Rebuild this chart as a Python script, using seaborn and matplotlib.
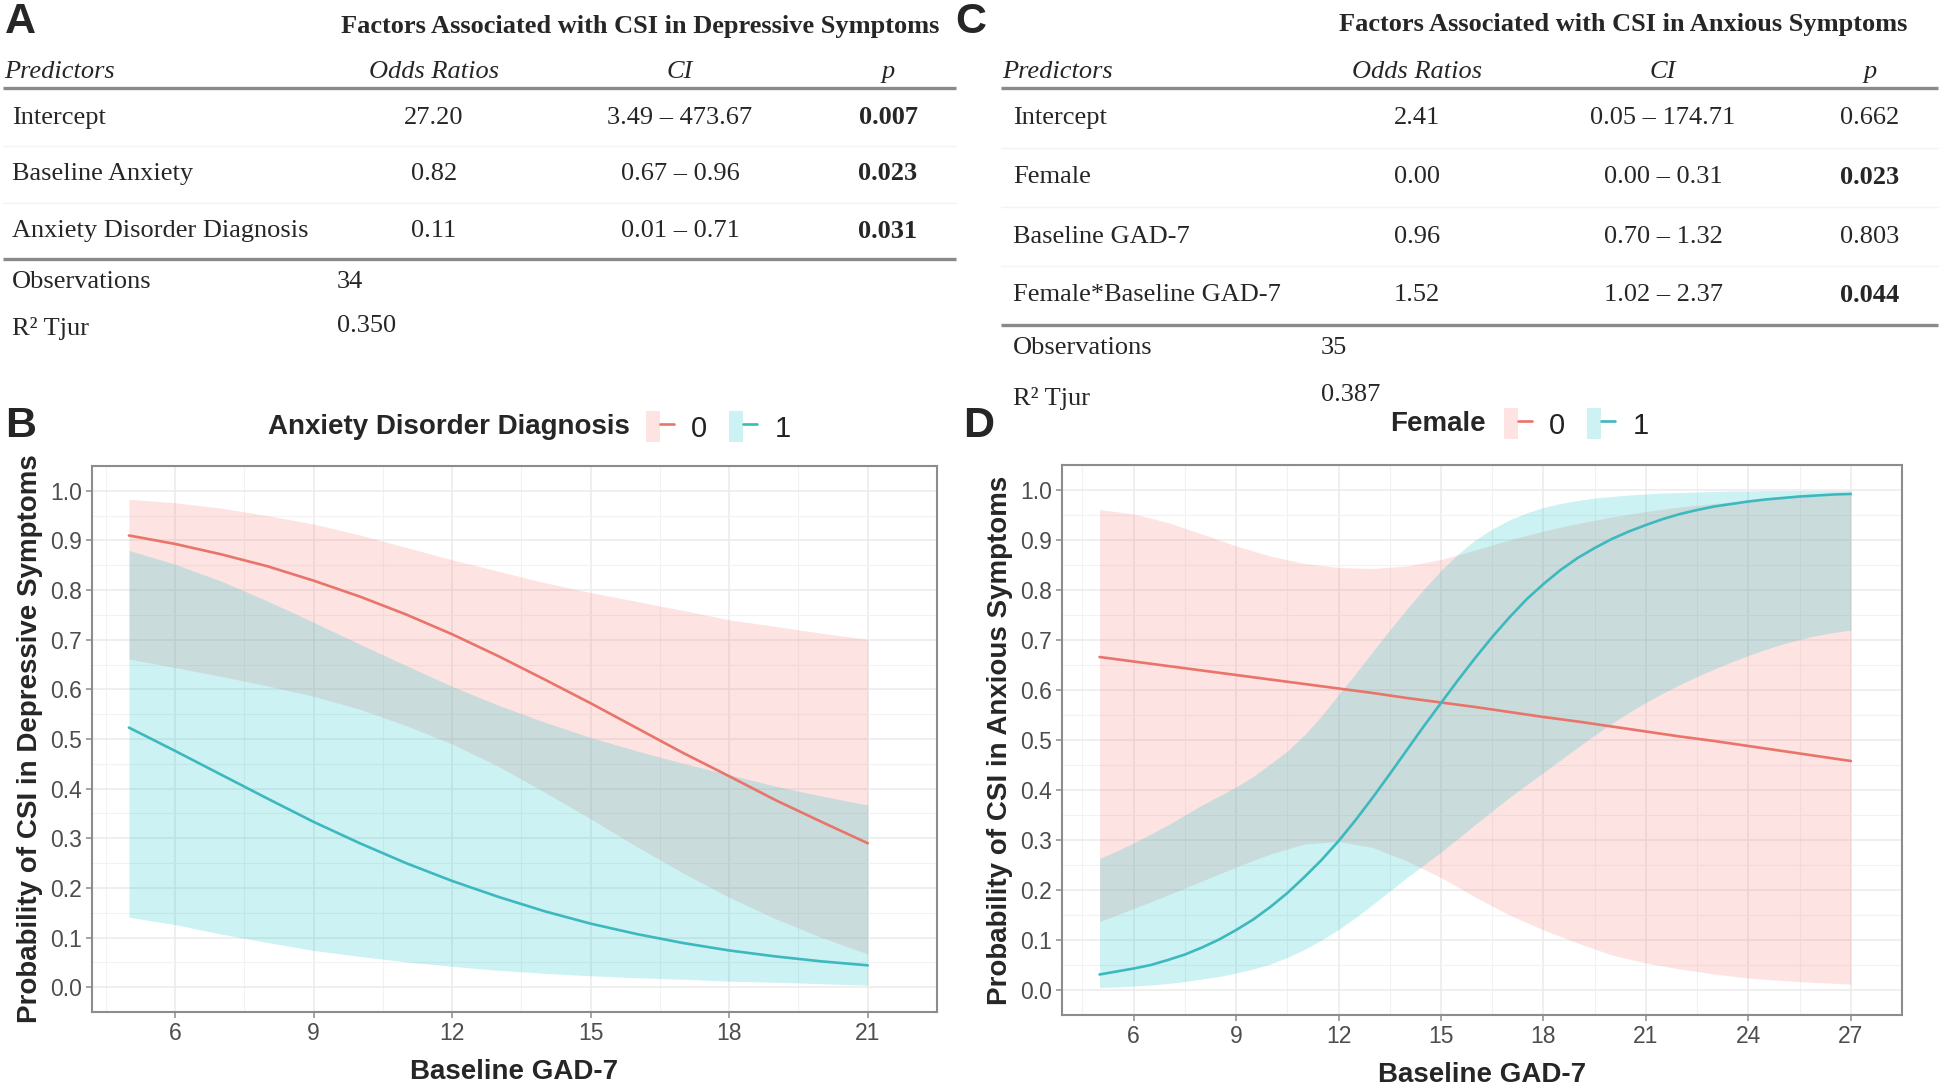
import numpy as np
import pandas as pd
import matplotlib
matplotlib.use("Agg")
import matplotlib.pyplot as plt
import seaborn as sns
from matplotlib.patches import Patch
from matplotlib.lines import Line2D
from matplotlib.legend_handler import HandlerTuple

# ---------------- Data ----------------
# Panel B: Probability of CSI in Depressive Symptoms vs Baseline GAD-7
gad_b = [5, 6, 7, 8, 9, 10, 11, 12, 13, 14, 15, 16, 17, 18, 19, 20, 21]
dep_p0 = [0.910, 0.893, 0.872, 0.848, 0.819, 0.787, 0.751, 0.711, 0.667, 0.620, 0.572, 0.522, 0.472, 0.425, 0.377, 0.333, 0.290]
dep_lo0 = [0.661, 0.644, 0.626, 0.607, 0.586, 0.560, 0.527, 0.490, 0.445, 0.393, 0.339, 0.283, 0.230, 0.181, 0.138, 0.100, 0.067]
dep_hi0 = [0.983, 0.976, 0.965, 0.950, 0.933, 0.911, 0.886, 0.861, 0.838, 0.815, 0.795, 0.777, 0.759, 0.740, 0.727, 0.713, 0.701]
dep_p1 = [0.523, 0.476, 0.428, 0.380, 0.333, 0.290, 0.250, 0.214, 0.182, 0.153, 0.128, 0.107, 0.089, 0.074, 0.062, 0.052, 0.044]
dep_lo1 = [0.141, 0.126, 0.107, 0.090, 0.074, 0.062, 0.051, 0.042, 0.034, 0.028, 0.023, 0.019, 0.016, 0.012, 0.010, 0.007, 0.004]
dep_hi1 = [0.880, 0.852, 0.818, 0.778, 0.735, 0.691, 0.648, 0.606, 0.568, 0.534, 0.503, 0.476, 0.451, 0.428, 0.405, 0.385, 0.367]

# Panel D: Probability of CSI in Anxious Symptoms vs Baseline GAD-7
# Female = 0 (read at whole units)
gad_d0 = [5, 6, 7, 8, 9, 10, 11, 12, 13, 14, 15, 16, 17, 18, 19, 20, 21, 22, 23, 24, 25, 26, 27]
anx_p0 = [0.666, 0.657, 0.648, 0.639, 0.630, 0.621, 0.612, 0.603, 0.594, 0.584, 0.575, 0.566, 0.556, 0.546,
          0.537, 0.527, 0.517, 0.507, 0.498, 0.488, 0.478, 0.468, 0.458]
anx_lo0 = [0.137, 0.163, 0.190, 0.218, 0.246, 0.272, 0.292, 0.297, 0.285, 0.258, 0.225, 0.186, 0.150, 0.120,
           0.094, 0.070, 0.054, 0.042, 0.032, 0.024, 0.019, 0.015, 0.012]
anx_hi0 = [0.961, 0.952, 0.935, 0.912, 0.888, 0.868, 0.853, 0.845, 0.843, 0.848, 0.861, 0.880, 0.900, 0.918,
           0.933, 0.946, 0.957, 0.966, 0.973, 0.979, 0.984, 0.988, 0.991]
# Female = 1 (read at half units, the curve bends sharply)
gad_d1 = [5, 5.5, 6, 6.5, 7, 7.5, 8, 8.5, 9, 9.5, 10, 10.5, 11, 11.5, 12, 12.5, 13, 13.5, 14, 14.5, 15, 15.5,
          16, 16.5, 17, 17.5, 18, 18.5, 19, 19.5, 20, 20.5, 21, 21.5, 22, 22.5, 23, 23.5, 24, 24.5, 25, 25.5,
          26, 26.5, 27]
anx_p1 = [0.031, 0.037, 0.043, 0.050, 0.060, 0.071, 0.085, 0.101, 0.120, 0.141, 0.166, 0.194, 0.226, 0.260,
          0.298, 0.340, 0.385, 0.432, 0.480, 0.528, 0.574, 0.620, 0.664, 0.706, 0.745, 0.781, 0.812, 0.840,
          0.864, 0.884, 0.902, 0.917, 0.930, 0.942, 0.952, 0.960, 0.967, 0.972, 0.977, 0.981, 0.984, 0.987,
          0.989, 0.991, 0.992]
anx_lo1 = [0.005, 0.006, 0.008, 0.010, 0.013, 0.017, 0.022, 0.027, 0.034, 0.042, 0.052, 0.065, 0.081, 0.100,
           0.121, 0.145, 0.171, 0.198, 0.225, 0.250, 0.276, 0.303, 0.331, 0.358, 0.385, 0.410, 0.435, 0.460,
           0.485, 0.510, 0.533, 0.555, 0.575, 0.594, 0.611, 0.627, 0.642, 0.656, 0.669, 0.681, 0.692, 0.701,
           0.709, 0.715, 0.720]
anx_hi1 = [0.263, 0.278, 0.294, 0.312, 0.330, 0.350, 0.370, 0.388, 0.406, 0.427, 0.452, 0.478, 0.510, 0.548,
           0.591, 0.633, 0.677, 0.720, 0.762, 0.802, 0.839, 0.872, 0.900, 0.922, 0.940, 0.954, 0.965, 0.973,
           0.979, 0.984, 0.987, 0.990, 0.992, 0.994, 0.995, 0.996, 0.997, 0.998, 0.998, 0.999, 0.999, 0.999,
           0.999, 0.999, 0.999]

ticks_b = [6, 9, 12, 15, 18, 21]
ticks_d = [6, 9, 12, 15, 18, 21, 24, 27]
ticks_y = [0.0, 0.1, 0.2, 0.3, 0.4, 0.5, 0.6, 0.7, 0.8, 0.9, 1.0]
group_labels = ["0", "1"]

# Table A
tabA_title = "Factors Associated with CSI in Depressive Symptoms"
tab_cols = ["Predictors", "Odds Ratios", "CI", "p"]
tabA_pred = ["Intercept", "Baseline Anxiety", "Anxiety Disorder Diagnosis"]
tabA_or = ["27.20", "0.82", "0.11"]
tabA_ci = ["3.49 \u2013 473.67", "0.67 \u2013 0.96", "0.01 \u2013 0.71"]
tabA_p = ["0.007", "0.023", "0.031"]
tabA_bold = [True, True, True]
tabA_obs = "34"
tabA_r2 = "0.350"

# Table C
tabC_title = "Factors Associated with CSI in Anxious Symptoms"
tabC_pred = ["Intercept", "Female", "Baseline GAD-7", "Female*Baseline GAD-7"]
tabC_or = ["2.41", "0.00", "0.96", "1.52"]
tabC_ci = ["0.05 \u2013 174.71", "0.00 \u2013 0.31", "0.70 \u2013 1.32", "1.02 \u2013 2.37"]
tabC_p = ["0.662", "0.023", "0.803", "0.044"]
tabC_bold = [False, True, False, True]
tabC_obs = "35"
tabC_r2 = "0.387"

# ---------------- Style ----------------
sns.set_theme(style="white")
plt.rcParams["font.family"] = ["Liberation Sans", "DejaVu Sans"]

RED = "#F8766D"
CYAN = "#00BFC4"
LRED = "#E8746A"
LCYAN = "#3DB8BE"
W, H = 1944, 1090
fig = plt.figure(figsize=(W / 100, H / 100), dpi=100)

# ---------------- Tables (pixel-coordinate helper axes) ----------------
tab = fig.add_axes([0, 0, 1, 1], zorder=0)
tab.set_xlim(0, W)
tab.set_ylim(H, 0)
tab.axis("off")
SERIF = ["Liberation Serif", "DejaVu Serif"]
FS = 19


def draw_table(x0, x1, title_cx, title_y, col_x, head_y, line1_y, row_ys,
               line2_y, foot_ys, foot_vx, text_x, preds, ors, cis, ps, bold, obs, r2, title):
    tab.text(title_cx, title_y, title, ha="center", va="center", fontsize=FS,
             fontweight="bold", family=SERIF)
    tab.text(x0 + 1, head_y, tab_cols[0], ha="left", va="center", fontsize=FS,
             style="italic", family=SERIF)
    for cx, lab in zip(col_x, tab_cols[1:]):
        tab.text(cx, head_y, lab, ha="center", va="center", fontsize=FS,
                 style="italic", family=SERIF)
    tab.plot([x0, x1], [line1_y, line1_y], color="#8a8a8a", lw=2.4, solid_capstyle="butt")
    tab.plot([x0, x1], [line2_y, line2_y], color="#8a8a8a", lw=2.4, solid_capstyle="butt")
    for i, y in enumerate(row_ys):
        tab.text(text_x, y, preds[i], ha="left", va="center", fontsize=FS, family=SERIF)
        tab.text(col_x[0], y, ors[i], ha="center", va="center", fontsize=FS, family=SERIF)
        tab.text(col_x[1], y, cis[i], ha="center", va="center", fontsize=FS, family=SERIF)
        tab.text(col_x[2], y, ps[i], ha="center", va="center", fontsize=FS, family=SERIF,
                 fontweight="bold" if bold[i] else "normal")
        if i < len(row_ys) - 1:
            ym = (y + row_ys[i + 1]) / 2
            tab.plot([x0, x1], [ym, ym], color="#f3f3f3", lw=1.0)
    tab.text(text_x, foot_ys[0], "Observations", ha="left", va="center", fontsize=FS, family=SERIF)
    tab.text(foot_vx, foot_ys[0], obs, ha="left", va="center", fontsize=FS, family=SERIF)
    tab.text(text_x, foot_ys[1], "R\u00b2 Tjur", ha="left", va="center", fontsize=FS, family=SERIF)
    tab.text(foot_vx, foot_ys[1] - 3, r2, ha="left", va="center", fontsize=FS, family=SERIF)


draw_table(3, 956, 640, 27, [434, 680, 888], 72, 88, [118, 174, 231], 259, [282, 329], 337, 12,
           tabA_pred, tabA_or, tabA_ci, tabA_p, tabA_bold, tabA_obs, tabA_r2, tabA_title)
draw_table(1001, 1938, 1623, 25, [1417, 1663, 1870], 72, 88, [118, 177, 237, 295], 325, [348, 398],
           1321, 1013, tabC_pred, tabC_or, tabC_ci, tabC_p, tabC_bold, tabC_obs, tabC_r2, tabC_title)

# Panel letters
for lab, x, y in [("A", 5, 22), ("C", 955, 22), ("B", 5, 426), ("D", 963, 426)]:
    fig.text(x / W, 1 - y / H, lab, fontsize=31, fontweight="bold", ha="left", va="center")


# ---------------- Plots ----------------
def style_axes(ax, xlim, ylim, xticks, ylabel):
    ax.set_xlim(*xlim)
    ax.set_ylim(*ylim)
    ax.set_xticks(xticks)
    ax.set_yticks(ticks_y)
    ax.set_yticklabels([f"{v:.1f}" for v in ticks_y])
    ax.set_xticks([t + 1.5 for t in [xticks[0] - 3] + xticks], minor=True)
    ax.set_yticks([v + 0.05 for v in [-0.1] + ticks_y], minor=True)
    ax.grid(True, which="major", color="#EBEBEB", lw=1.1)
    ax.grid(True, which="minor", color="#F2F2F2", lw=0.8)
    ax.set_axisbelow(True)
    for s in ax.spines.values():
        s.set_color("#8C8C8C")
        s.set_linewidth(1.5)
    ax.tick_params(which="major", axis="both", length=4, width=1.1, color="#8C8C8C",
                   labelsize=16.5, labelcolor="#4D4D4D", pad=3, direction="out",
                   bottom=True, left=True)
    ax.tick_params(which="minor", length=0)
    ax.set_xlabel("Baseline GAD-7", fontsize=20, fontweight="bold", labelpad=10)
    ax.set_ylabel(ylabel, fontsize=20, fontweight="bold", labelpad=5)


def panel(ax, x0, p0, lo0, hi0, x1, p1, lo1, hi1):
    ax.fill_between(x0, lo0, hi0, color=RED, alpha=0.2, lw=0)
    ax.fill_between(x1, lo1, hi1, color=CYAN, alpha=0.2, lw=0)
    df = pd.DataFrame({
        "gad": list(x0) + list(x1),
        "prob": list(p0) + list(p1),
        "grp": [group_labels[0]] * len(x0) + [group_labels[1]] * len(x1),
    })
    sns.lineplot(data=df, x="gad", y="prob", hue="grp", palette=[LRED, LCYAN],
                 lw=1.9, legend=False, ax=ax, sort=True)


axB = fig.add_axes([92 / W, 1 - 1012 / H, 845 / W, 546 / H])
panel(axB, gad_b, dep_p0, dep_lo0, dep_hi0, gad_b, dep_p1, dep_lo1, dep_hi1)
style_axes(axB, (4.2, 21.8), (-0.045, 1.032), ticks_b, "Probability of CSI in Depressive Symptoms")

axD = fig.add_axes([1062 / W, 1 - 1015 / H, 840 / W, 550 / H])
panel(axD, gad_d0, anx_p0, anx_lo0, anx_hi0, gad_d1, anx_p1, anx_lo1, anx_hi1)
style_axes(axD, (3.9, 28.1), (-0.045, 1.049), ticks_d, "Probability of CSI in Anxious Symptoms")


# ---------------- Legends ----------------
def make_legend(title, title_right_x, keys_left_x, y):
    fig.text(title_right_x / W, 1 - y / H, title, fontsize=20, fontweight="bold",
             ha="right", va="center")
    handles = [(Patch(facecolor=c, alpha=0.2, edgecolor="none"), Line2D([], [], color=lc, lw=1.9))
               for c, lc in ((RED, LRED), (CYAN, LCYAN))]
    fig.legend(handles, group_labels, handler_map={tuple: HandlerTuple(ndivide=None, pad=0)},
               ncol=2, loc="center left", bbox_to_anchor=(keys_left_x / W, 1 - y / H),
               frameon=False, fontsize=21, handlelength=0.95, handleheight=1.25,
               handletextpad=0.6, columnspacing=0.75, borderpad=0, borderaxespad=0,
               labelcolor="#222222")


make_legend("Anxiety Disorder Diagnosis", 630, 646, 427)
make_legend("Female", 1486, 1504, 424)

fig.savefig("out.png", dpi=100)
